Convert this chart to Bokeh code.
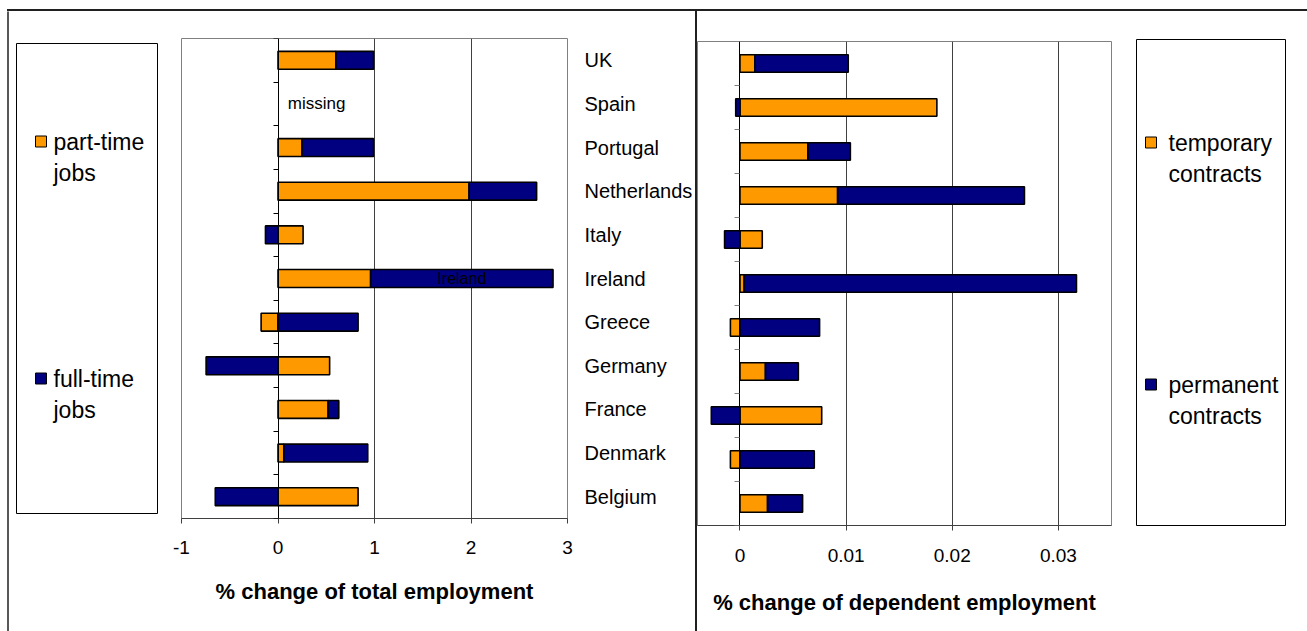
import numpy as np
from bokeh.plotting import figure
from bokeh.layouts import row, column
from bokeh.models import (FixedTicker, LinearAxis, Range1d, CustomJSTickFormatter,
                          NumeralTickFormatter, Spacer)
from bokeh.core.properties import value
from bokeh.embed import file_html
from bokeh.resources import INLINE

# ---------------- data (bottom -> top) ----------------
countries = ["Belgium", "Denmark", "France", "Germany", "Greece", "Ireland",
             "Italy", "Netherlands", "Portugal", "Spain", "UK"]
part_time = [0.83, 0.06, 0.52, 0.535, -0.175, 0.96, 0.26, 1.98, 0.25, np.nan, 0.60]
full_time = [-0.65, 0.87, 0.11, -0.745, 0.83, 1.89, -0.13, 0.70, 0.74, np.nan, 0.39]
temporary = [0.0026, -0.0009, 0.0077, 0.0024, -0.0009, 0.0004, 0.0021, 0.0092, 0.0064, 0.01855, 0.0014]
permanent = [0.0033, 0.0070, -0.0027, 0.0031, 0.0075, 0.0313, -0.00145, 0.0176, 0.0040, -0.0004, 0.0088]
left_ticks = [-1, 0, 1, 2, 3]
right_ticks = [0, 0.01, 0.02, 0.03]
left_legend = [["part-time", "jobs"], ["full-time", "jobs"]]
right_legend = [["temporary", "contracts"], ["permanent", "contracts"]]

FONT = "Liberation Sans"
ORANGE = "#FF9900"
NAVY = "#000080"
GRID = "#404040"
FRAME = "#808080"
DARK = "#202020"
H = 620  # height of the figure row (below the top rule)


def no_align(p):
    try:
        p.frame_align = False
    except AttributeError:
        pass


def stack(a, b):
    a = np.array(a, float)
    b = np.array(b, float)
    pos = np.maximum(a, 0)
    neg = np.minimum(a, 0)
    b_l = np.where(b >= 0, pos, neg + b)
    b_r = np.where(b >= 0, pos + b, neg)
    return neg, pos, b_l, b_r


def style_chart(p, ticks, xlabel, tick_standoff, label_standoff, axis_color, ytick_color):
    p.outline_line_color = FRAME
    p.outline_line_width = 1
    xa = p.xaxis[0]
    xa.ticker = FixedTicker(ticks=ticks)
    xa.axis_label = xlabel
    xa.axis_label_text_font = FONT
    xa.axis_label_text_font_size = "22px"
    xa.axis_label_text_font_style = "bold"
    xa.axis_label_text_color = "black"
    xa.axis_label_standoff = label_standoff
    xa.major_label_text_font = FONT
    xa.major_label_text_font_size = "19px"
    xa.major_label_text_color = "black"
    xa.major_label_standoff = tick_standoff
    xa.major_tick_in = 0
    xa.major_tick_out = 5
    xa.minor_tick_line_color = None
    xa.axis_line_color = axis_color
    xa.major_tick_line_color = axis_color
    ya = p.yaxis[0]
    ya.fixed_location = 0
    ya.ticker = FixedTicker(ticks=list(range(len(countries) + 1)))
    ya.major_tick_in = 0
    ya.major_tick_out = 5
    ya.minor_tick_line_color = None
    ya.major_label_text_color = None
    ya.axis_line_color = "black"
    ya.major_tick_line_color = ytick_color
    p.xgrid.ticker = FixedTicker(ticks=ticks)
    p.xgrid.grid_line_color = GRID
    p.ygrid.visible = False
    no_align(p)


def legend_fig(width, box, swatch_x, text_x, rows, colors, rules):
    """Legend panel: a figure whose frame is the whole panel, y measured downward."""
    p = figure(width=width, height=H, x_range=Range1d(0, width), y_range=Range1d(H, 0),
               x_axis_type=None, y_axis_type=None, output_backend="svg",
               toolbar_location=None, min_border=0, outline_line_color=None)
    p.grid.visible = False
    no_align(p)
    l, r, t, b = box
    p.quad(left=[l], right=[r], top=[t], bottom=[b], fill_color=None,
           line_color="black", line_width=1)
    for (y0, lines), color in zip(rows, colors):
        p.quad(left=[swatch_x], right=[swatch_x + 11], top=[y0 - 5.5], bottom=[y0 + 5.5],
               fill_color=color, line_color="black", line_width=1)
        p.text(x=[text_x] * len(lines), y=[y0 + 31.5 * k for k in range(len(lines))],
               text=lines, text_font=value(FONT), text_font_size="23px",
               text_baseline="middle", text_align="left", text_color="black")
    for (x0, y0, x1, y1) in rules:
        p.segment(x0=[x0], y0=[y0], x1=[x1], y1=[y1], line_color=DARK, line_width=1.5)
    return p


yc = np.arange(len(countries)) + 0.5

# ---------------- left chart ----------------
p1 = figure(width=525, height=H, x_range=Range1d(-1, 3), y_range=Range1d(0, len(countries)),
            output_backend="svg", toolbar_location=None,
            min_border_left=11, min_border_right=127, min_border_top=27, min_border_bottom=113)
style_chart(p1, left_ticks, "% change of total employment", 17, 22, GRID, "black")
p1.xaxis[0].formatter = CustomJSTickFormatter(code="return String(tick);")

a_l, a_r, b_l, b_r = stack(part_time, full_time)
ok = np.isfinite(a_l)
p1.hbar(y=yc[ok], left=a_l[ok], right=a_r[ok], height=0.41, fill_color=ORANGE,
        line_color="black", line_width=1.6)
p1.hbar(y=yc[ok], left=b_l[ok], right=b_r[ok], height=0.41, fill_color=NAVY,
        line_color="black", line_width=1.6)

miss = ~ok
p1.text(x=np.full(miss.sum(), 0.4), y=yc[miss], text=["missing"] * int(miss.sum()),
        text_font=value(FONT), text_font_size="17px", text_align="center",
        text_baseline="middle", text_color="black")
irl = countries.index("Ireland")
p1.text(x=[part_time[irl] + full_time[irl] / 2], y=[yc[irl]], text=["Ireland"],
        text_font=value(FONT), text_font_size="16px", text_align="center",
        text_baseline="middle", text_color="black")

cat_axis = LinearAxis(ticker=FixedTicker(ticks=list(yc)),
                      formatter=CustomJSTickFormatter(args=dict(names=countries),
                                                      code="return names[Math.floor(tick)] || '';"),
                      major_tick_in=0, major_tick_out=0, minor_tick_line_color=None,
                      axis_line_color=None, major_label_standoff=17,
                      major_label_text_font=FONT, major_label_text_font_size="20px",
                      major_label_text_color="black")
p1.add_layout(cat_axis, "right")

# ---------------- right chart ----------------
p2 = figure(width=429, height=H, x_range=Range1d(-0.004, 0.035), y_range=Range1d(0, len(countries)),
            output_backend="svg", toolbar_location=None,
            min_border_left=0, min_border_right=15, min_border_top=30, min_border_bottom=106)
style_chart(p2, right_ticks, "% change of dependent employment", 18, 25, GRID, FRAME)
p2.xaxis[0].formatter = NumeralTickFormatter(format="0.[00]")

c_l, c_r, d_l, d_r = stack(temporary, permanent)
p2.hbar(y=yc, left=c_l, right=c_r, height=0.40, fill_color=ORANGE,
        line_color="black", line_width=1.6)
p2.hbar(y=yc, left=d_l, right=d_r, height=0.40, fill_color=NAVY,
        line_color="black", line_width=1.6)

# ---------------- legends ----------------
leg1 = legend_fig(170, (16, 157, 32, 502), 35, 53,
                  [(130, left_legend[0]), (367, left_legend[1])], [ORANGE, NAVY],
                  [(7.5, -2, 7.5, H + 2)])
leg2 = legend_fig(181, (10, 159, 28, 514), 19, 42,
                  [(131, right_legend[0]), (373, right_legend[1])], [ORANGE, NAVY],
                  [])

sep = Spacer(width=2, height=H, styles={"background-color": DARK})
top_rule = row(Spacer(width=7, height=2), Spacer(width=1300, height=2, styles={"background-color": DARK}))
layout = column(Spacer(width=1307, height=9), top_rule, row(leg1, p1, sep, p2, leg2, spacing=0), spacing=0)
open("out.html", "w").write(file_html(layout, INLINE))
